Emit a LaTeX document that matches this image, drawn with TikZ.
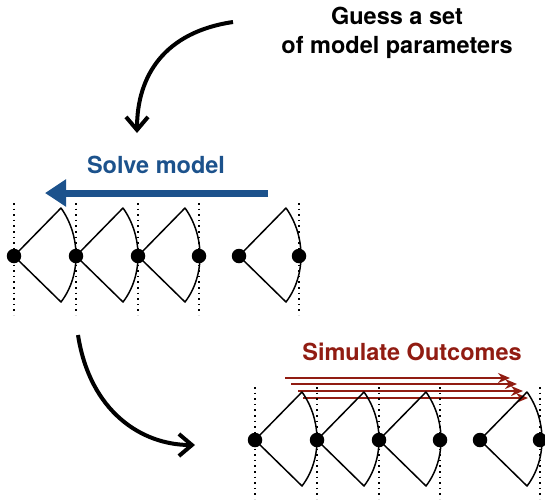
\documentclass[tikz,border=0pt]{standalone}
\usepackage{fontspec}
\setmainfont{TeX Gyre Heros}
\usetikzlibrary{arrows.meta}
\definecolor{solveblue}{RGB}{28,82,140}
\definecolor{simred}{RGB}{145,28,18}

\tikzset{
  dot/.style={circle, fill=black, inner sep=0pt, minimum size=14.5pt},
  period/.style={line width=1.6pt, dash pattern=on 1.6pt off 4pt},
  sector/.pic={\draw[line width=1.5pt, line join=round] (0,0) -- (47,-48) .. controls (67,-20) and (67,20) .. (47,46) -- cycle;},
  curvearrow/.style={line width=4pt, -{Straight Barb[length=13pt,width=22pt]}},
  heading/.style={font=\fontsize{23.5}{29}\selectfont\bfseries, align=center}
}

\begin{document}
\begin{tikzpicture}[x=1pt, y=-1pt]
\useasboundingbox (0,0) rectangle (545,499);

% GUESS
\node[heading] (guess) at (397,33) {Guess a set\\of model parameters};
\coordinate (guessfrom) at (233,22);
\coordinate (guessto) at (137,133);
\draw[curvearrow] (guessfrom) .. controls (165,32) and (137,75) .. (guessto);

% ROW 1: SOLVE MODEL (backwards)
\node[heading, solveblue] (solve) at (156,165) {Solve model};
\coordinate (solvefrom) at (268,193);
\coordinate (solveto) at (45,193);
\draw[solveblue, line width=7pt, -{Triangle[length=21pt,width=26pt]}] (solvefrom) -- (solveto);

\draw[period] (14,203) -- (14,315);
\draw[period] (76,203) -- (76,315);
\draw[period] (138,203) -- (138,315);
\draw[period] (199,203) -- (199,315);
\draw[period] (299,203) -- (299,315);

\pic at (14,256) {sector};
\pic at (76,256) {sector};
\pic at (138,256) {sector};
\pic at (239,256) {sector};

\node[dot] (a1) at (14,256) {};
\node[dot] (a2) at (76,256) {};
\node[dot] (a3) at (138,256) {};
\node[dot] (a4) at (199,256) {};
\node[dot] (a5) at (239,256) {};
\node[dot] (a6) at (299,256) {};

% ARROW DOWN
\coordinate (downfrom) at (78,335);
\coordinate (downto) at (195,445);
\draw[curvearrow] (downfrom) .. controls (90,412) and (142,445) .. (downto);

% ROW 2: SIMULATE OUTCOMES (forwards)
\node[heading, simred] (simulate) at (412,352) {Simulate Outcomes};
\foreach \sx/\ex/\y [count=\i] in {285/510/378, 291/517/384, 298/523/391, 303/528/398} {
  \coordinate (s\i) at (\sx,\y);
  \coordinate (e\i) at (\ex,\y);
  \draw[simred, line width=2.6pt, -{Stealth[length=12pt,width=10pt]}] (s\i) -- (e\i);
}

\draw[period] (255,387) -- (255,499);
\draw[period] (317,387) -- (317,499);
\draw[period] (379,387) -- (379,499);
\draw[period] (440,387) -- (440,499);
\draw[period] (540,387) -- (540,499);

\pic at (255,440) {sector};
\pic at (317,440) {sector};
\pic at (379,440) {sector};
\pic at (480,440) {sector};

\node[dot] (b1) at (255,440) {};
\node[dot] (b2) at (317,440) {};
\node[dot] (b3) at (379,440) {};
\node[dot] (b4) at (440,440) {};
\node[dot] (b5) at (480,440) {};
\node[dot] (b6) at (540,440) {};

\end{tikzpicture}
\end{document}
